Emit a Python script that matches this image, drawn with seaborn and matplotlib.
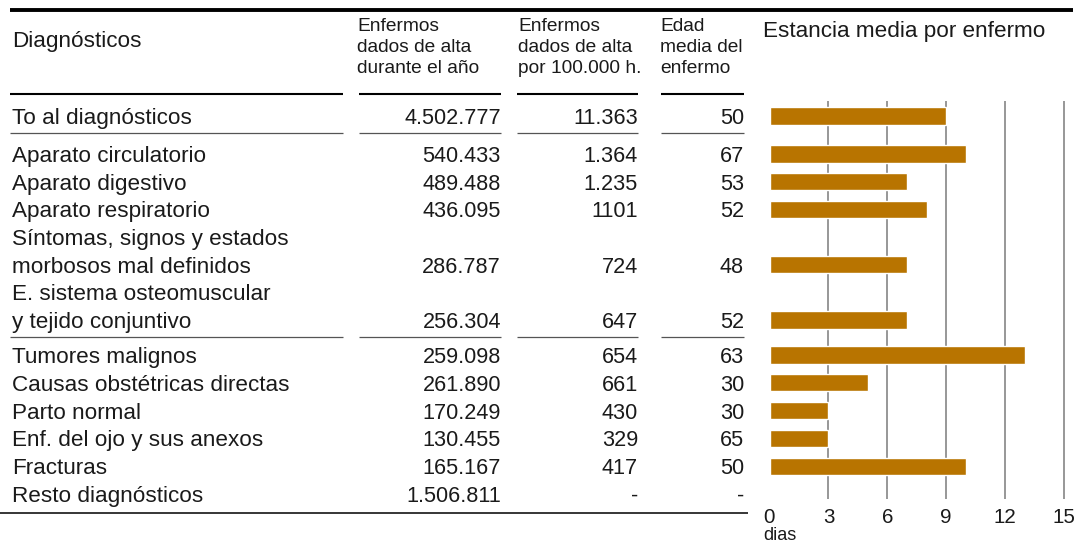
import numpy as np
import pandas as pd
import seaborn as sns
import matplotlib.pyplot as plt
from matplotlib.lines import Line2D
from matplotlib.transforms import blended_transform_factory, offset_copy

# datos
diagnosticos = [
    "To al diagnósticos",
    "Aparato circulatorio",
    "Aparato digestivo",
    "Aparato respiratorio",
    "Síntomas, signos y estados\nmorbosos mal definidos",
    "E. sistema osteomuscular\ny tejido conjuntivo",
    "Tumores malignos",
    "Causas obstétricas directas",
    "Parto normal",
    "Enf. del ojo y sus anexos",
    "Fracturas",
    "Resto diagnósticos",
]
altas = ["4.502.777", "540.433", "489.488", "436.095", "286.787", "256.304",
         "259.098", "261.890", "170.249", "130.455", "165.167", "1.506.811"]
altas_100000 = ["11.363", "1.364", "1.235", "1101", "724", "647",
                "654", "661", "430", "329", "417", "-"]
edad_media = ["50", "67", "53", "52", "48", "52", "63", "30", "30", "65", "50", "-"]
estancia = [9, 10, 7, 8, 7, 7, 13, 5, 3, 3, 10, np.nan]
ticks = [0, 3, 6, 9, 12, 15]

cabeceras = ["Enfermos\ndados de alta\ndurante el año",
             "Enfermos\ndados de alta\npor 100.000 h.",
             "Edad\nmedia del\nenfermo"]

# maquetacion (pixeles de la figura)
W, H = 1077, 542
grupos = [1, 5, 6]
grupo_px = [(101, 140, 116, 27.7), (140, 337, 154, 27.67), (337, 499, 355, 27.8)]
BAR = "#B87400"
TXT = "#1a1a1a"

sns.set_style("white")
plt.rcParams["font.family"] = ["Liberation Sans", "DejaVu Sans"]

fig = plt.figure(figsize=(W / 100, H / 100), dpi=100)


def fx(px):
    return px / W


def fy(py):
    return 1 - py / H


def hline(y, x0, x1, lw, color):
    fig.add_artist(Line2D([fx(x0), fx(x1)], [fy(y), fy(y)], lw=lw, color=color,
                          transform=fig.transFigure, solid_capstyle="butt"))


# lineas de la tabla
hline(10, 10, 1073, 2.8, "black")
segmentos = [(10, 343), (359, 501), (517, 638), (661, 744)]
for x0, x1 in segmentos:
    hline(94, x0, x1, 1.5, "black")
    hline(133, x0, x1, 0.9, "#555555")
    hline(337, x0, x1, 0.9, "#555555")
hline(513, 0, 748, 1.1, "black")

# cabeceras
fig.text(fx(12), fy(41), "Diagnósticos", fontsize=16.2, color=TXT, va="center")
for txt, x in zip(cabeceras, [357, 518, 660]):
    fig.text(fx(x), fy(18), txt, fontsize=13.8, color=TXT, va="top", linespacing=1.32)
fig.text(fx(763), fy(32), "Estancia media por enfermo", fontsize=16.2, color=TXT, va="center")

ax_left = 769.5
ax_right = 1066
inicio = 0
for g, n in enumerate(grupos):
    top, bottom, c0, paso = grupo_px[g]
    ax = fig.add_axes([fx(ax_left), fy(bottom), (ax_right - ax_left) / W, (bottom - top) / H])
    idx = list(range(inicio, inicio + n))
    inicio += n

    slots = []
    filas = []
    for i in idx:
        lineas = diagnosticos[i].split("\n")
        slots.extend(lineas)
        filas.append((i, lineas, len(slots) - 1))

    df = pd.DataFrame({
        "slot": [diagnosticos[i].split("\n")[-1] for i in idx],
        "estancia": [estancia[i] for i in idx],
    }).dropna()
    sns.barplot(data=df, x="estancia", y="slot", order=slots, orient="h",
                color=BAR, saturation=1, width=0.62, ax=ax)

    ax.set_xlim(0, 15.1)
    ax.set_ylim((bottom - c0) / paso, -(c0 - top) / paso)
    ax.set_xticks(ticks)
    ax.grid(axis="x", color="#7a7a7a", lw=1.1)
    ax.set_axisbelow(True)
    ax.get_xgridlines()[0].set_visible(False)
    ax.grid(axis="y", visible=False)
    ax.set_xlabel("")
    ax.set_ylabel("")
    for s in ax.spines.values():
        s.set_visible(False)
    ax.tick_params(left=False, labelleft=False, bottom=False,
                   labelbottom=(g == len(grupos) - 1), labelsize=14.8,
                   labelcolor=TXT, pad=3)

    tr = offset_copy(blended_transform_factory(fig.transFigure, ax.transData),
                     fig=fig, y=-2.5, units="dots")
    for i, lineas, pos in filas:
        for k, linea in enumerate(lineas):
            ax.text(fx(12), pos - (len(lineas) - 1 - k), linea, transform=tr,
                    fontsize=16.2, color=TXT, va="center", ha="left", clip_on=False)
        for val, xr in zip([altas[i], altas_100000[i], edad_media[i]], [501, 638, 744]):
            ax.text(fx(xr), pos, val, transform=tr, fontsize=15.6, color=TXT,
                    va="center", ha="right", clip_on=False)

fig.text(fx(763), fy(535), "dias", fontsize=13, color=TXT, va="center")

fig.savefig("out.png", dpi=100)
